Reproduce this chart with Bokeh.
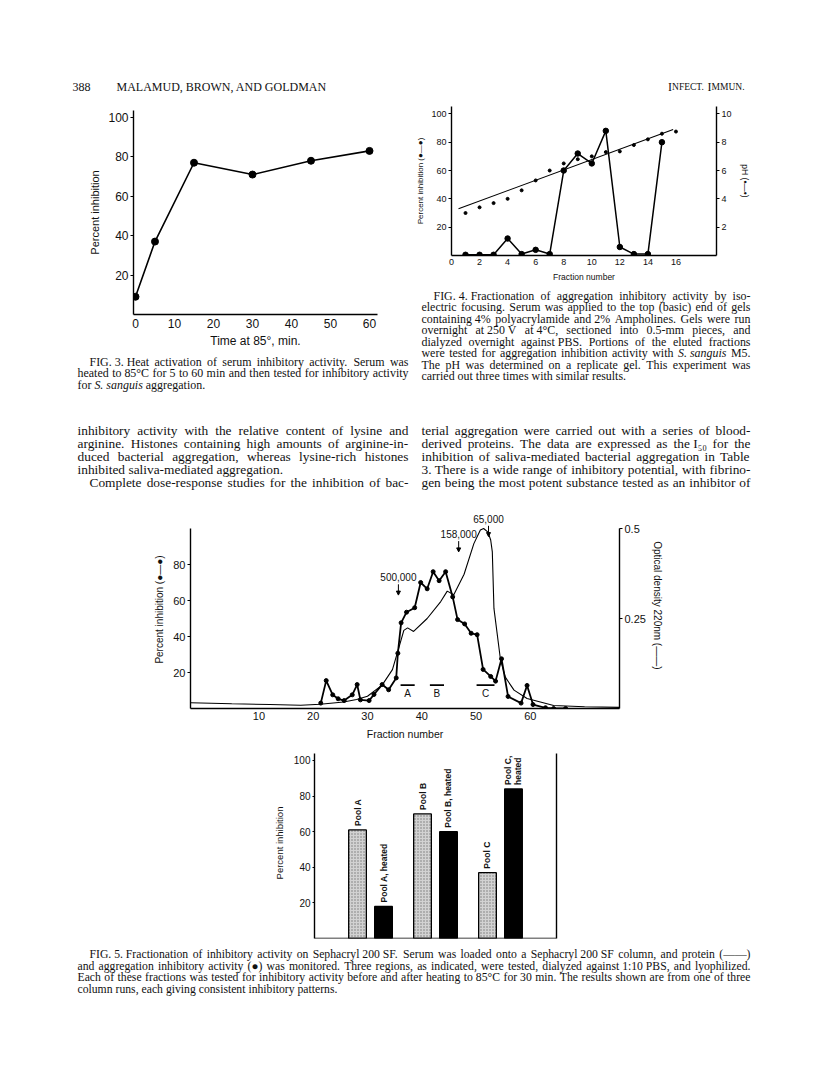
import math
from bokeh.plotting import figure
from bokeh.models import (Range1d, LinearAxis, FixedTicker, Arrow, NormalHead,
                          FactorRange, ColumnDataSource, Span)
from bokeh.embed import file_html
from bokeh.resources import INLINE
from bokeh.core.properties import value

# ---------------- data ----------------
# Fig. 3
fig3_time = [0, 5, 15, 30, 45, 60]
fig3_inhib = [9, 37, 77, 71, 78, 83]
fig3_xticks = [0, 10, 20, 30, 40, 50, 60]
fig3_yticks = [20, 40, 60, 80, 100]

# Fig. 4
fig4_fraction = [1, 2, 3, 4, 5, 6, 7, 8, 9, 10, 11, 12, 13, 14, 15]
fig4_inhib = [0.5, 0.5, 0.5, 12, 1, 4, 1, 60, 72, 65, 88, 6, 1, 1, 80]
fig4_ph_fraction = [1, 2, 3, 4, 5, 6, 7, 8, 9, 10, 11, 12, 13, 14, 15, 16]
fig4_ph = [3.0, 3.4, 3.7, 4.0, 4.6, 5.3, 6.0, 6.5, 6.8, 7.0, 7.3, 7.35, 7.8, 8.2, 8.6, 8.75]
fig4_fit_fraction = [0.5, 15.8]
fig4_fit_ph = [3.3, 8.9]
fig4_xticks = [0, 2, 4, 6, 8, 10, 12, 14, 16]
fig4_yticks = [20, 40, 60, 80, 100]
fig4_ph_ticks = [2, 4, 6, 8, 10]

# Fig. 5 (column profile)
fig5_fraction = [21.4, 22.4, 23.6, 24.6, 25.7, 27.2, 28.1, 28.7, 30.3, 31.2, 32.7, 33.9,
                 35.3, 35.6, 36.2, 37.2, 38.7, 39.8, 41.0, 42.1, 43.2, 44.4, 45.7, 46.6,
                 47.9, 49.1, 50.2, 51.3, 52.7, 53.6, 54.7, 55.9, 58.3, 59.4, 60.5, 62.8,
                 64.3, 66.5]
fig5_inhib = [3, 15.5, 7.6, 5.4, 4.4, 7.6, 13.3, 4.8, 4.4, 7.8, 13.3, 10.4,
              17, 30.7, 47.6, 53.5, 56, 70, 66.5, 76, 71, 76, 62, 49.4,
              47, 41.8, 41, 21.7, 17.8, 15.2, 27.6, 6.7, 3, 12.8, 2.2, 0.4,
              0, 0]
od_fraction = [-2.6, 5, 12, 17.7, 21.3, 25.6, 28, 30, 32.7, 34.6, 35.8, 36.7, 37.4, 38.5,
               41, 43.5, 44.7, 45.9, 47.8, 49.6, 50.8, 51.4, 52.2, 52.7, 53.0, 53.3,
               54.5, 55.4, 57, 59.4, 64.3, 70, 76.4]
od_values = [0.016, 0.013, 0.011, 0.009, 0.012, 0.018, 0.025, 0.034, 0.065, 0.108, 0.17,
             0.217, 0.224, 0.214, 0.25, 0.297, 0.326, 0.316, 0.373, 0.458, 0.496, 0.5,
             0.49, 0.468, 0.435, 0.278, 0.136, 0.087, 0.051, 0.028, 0.0085, 0.005, 0.003]
fig5_xticks = [10, 20, 30, 40, 50, 60]
fig5_yticks = [20, 40, 60, 80]
od_ticks = [0.25, 0.5]
pool_labels = ["A", "B", "C"]
pool_start = [36.1, 41.5, 50.1]
pool_end = [38.7, 44.1, 53.4]
pool_level = 13
mw_labels = ["500,000", "158,000", "65,000"]
mw_fraction = [35.7, 46.8, 52.3]
mw_level = [73, 97, 105.5]

# Fig. 5 (bars)
bar_pools = ["Pool A", "Pool A", "Pool B", "Pool B", "Pool C", "Pool C"]
bar_treatment = ["unheated", "heated", "unheated", "heated", "unheated", "heated"]
bar_values = [61, 18, 70, 60, 37, 84]
bar_labels = ["Pool A", "Pool A, heated", "Pool B", "Pool B, heated", "Pool C", "Pool C,\nheated"]
bar_yticks = [20, 40, 60, 80, 100]

# ---------------- text (words wrapped in _ are italic) ----------------
header_left = [("388", 64), ("MALAMUD, BROWN, AND GOLDMAN", 108)]
cap3 = ["FIG. 3. Heat activation of serum inhibitory activity. Serum was",
        "heated to 85°C for 5 to 60 min and then tested for inhibitory activity",
        "for _S._ _sanguis_ aggregation."]
cap4 = ["FIG. 4. Fractionation of aggregation inhibitory activity by iso-",
        "electric focusing. Serum was applied to the top (basic) end of gels",
        "containing 4% polyacrylamide and 2% Ampholines. Gels were run",
        "overnight at 250 V at 4°C, sectioned into 0.5-mm pieces, and",
        "dialyzed overnight against PBS. Portions of the eluted fractions",
        "were tested for aggregation inhibition activity with _S._ _sanguis_ M5.",
        "The pH was determined on a replicate gel. This experiment was",
        "carried out three times with similar results."]
body_left = ["inhibitory activity with the relative content of lysine and",
             "arginine. Histones containing high amounts of arginine-in-",
             "duced bacterial aggregation, whereas lysine-rich histones",
             "inhibited saliva-mediated aggregation.",
             "Complete dose-response studies for the inhibition of bac-"]
body_right = ["terial aggregation were carried out with a series of blood-",
              "derived proteins. The data are expressed as the I₅₀ for the",
              "inhibition of saliva-mediated bacterial aggregation in Table",
              "3. There is a wide range of inhibitory potential, with fibrino-",
              "gen being the most potent substance tested as an inhibitor of"]
cap5 = ["FIG. 5. Fractionation of inhibitory activity on Sephacryl 200 SF. Serum was loaded onto a Sephacryl 200 SF column, and protein (——)",
        "and aggregation inhibitory activity (●) was monitored. Three regions, as indicated, were tested, dialyzed against 1:10 PBS, and lyophilized.",
        "Each of these fractions was tested for inhibitory activity before and after heating to 85°C for 30 min. The results shown are from one of three",
        "column runs, each giving consistent inhibitory patterns."]

SERIF = "Liberation Serif"
SANS = "Liberation Sans"
INK = "#111111"

TW = dict(zip("abcdefghijklmnopqrstuvwxyz",
              [444, 500, 444, 500, 444, 333, 500, 500, 278, 278, 500, 278, 778, 500, 500,
               500, 500, 333, 389, 278, 500, 500, 722, 500, 500, 444]))
TW.update(dict(zip("ABCDEFGHIJKLMNOPQRSTUVWXYZ",
                   [722, 667, 667, 722, 611, 556, 722, 722, 333, 389, 722, 611, 889, 722,
                    722, 556, 722, 667, 556, 611, 722, 722, 944, 722, 722, 611])))
TW.update({" ": 250, ".": 250, ",": 250, "-": 333, ":": 278, "(": 333, ")": 333,
           "%": 833, "°": 400, "—": 1000, "●": 600, "₅": 330, "₀": 330})
SPECIAL = set("●—")


def tw(s, size):
    return sum(TW.get(c, 500) for c in s) / 1000.0 * size


def has_lower(s):
    return any("a" <= c <= "z" for c in s)


def chunks_of(line):
    """Split a line into chunks; every chunk holds lowercase letters and one style."""
    out = []
    for t in line.split(" "):
        if t.startswith("_") and t.endswith("_") and len(t) > 2:
            word, st = t[1:-1], "italic"
        else:
            word, st = t, "normal"
        special = any(c in SPECIAL for c in word)
        prev_special = bool(out) and any(c in SPECIAL for c in out[-1][0])
        if (out and not special and not prev_special and out[-1][1] == st and
                (not has_lower(word) or not has_lower(out[-1][0]) or st == "italic")):
            out[-1] = (out[-1][0] + " " + word, st)
        else:
            out.append((word, st))
    return out


def line_items(line, x, y, size, target=None):
    toks = chunks_of(line)
    if target is None and len(toks) == 1:
        return [(x, y, toks[0][0], size, toks[0][1])]
    widths = [tw(t, size) for t, _ in toks]
    sp = tw(" ", size)
    nat = sum(widths) + sp * (len(toks) - 1)
    gap = sp
    if target is not None and len(toks) > 1 and nat < target:
        gap = sp + (target - nat) / (len(toks) - 1)
    items, cx = [], x
    for (t, st), w in zip(toks, widths):
        items.append((cx, y, t, size, st))
        cx += w + gap
    return items


def fit_size(lines, width, desired):
    worst = max(tw(l.replace("_", ""), 1.0) for l in lines)
    return min(desired, 0.985 * width / worst)


def paragraph(lines, x0, y0, dy, width, size, indents, justify):
    items = []
    for i, line in enumerate(lines):
        ind = indents.get(i, 0)
        target = (width - ind) if justify[i] else None
        items += line_items(line, x0 + ind, y0 + dy * i, size, target)
    return items


def place(p, left, top):
    p.styles = {"position": "absolute", "left": f"{left}px", "top": f"{top}px"}
    return p


def band(w, h, items):
    p = figure(width=w, height=h, x_range=Range1d(0, w), y_range=Range1d(h, 0),
               min_border=0, toolbar_location=None, output_backend="svg",
               x_axis_type=None, y_axis_type=None, outline_line_color=None,
               background_fill_color="white", border_fill_color="white")
    groups = {}
    for (x, y, t, size, style) in items:
        groups.setdefault((size, style), []).append((x, y, t))
    for (size, style), lst in groups.items():
        src = ColumnDataSource(dict(x=[a[0] for a in lst], y=[a[1] for a in lst],
                                    text=[a[2] for a in lst]))
        p.text(x="x", y="y", text="text", source=src, text_font=value(SERIF),
               text_font_size=value(f"{size:.2f}px"), text_font_style=value(style),
               text_baseline="alphabetic", text_align="left", text_color=INK)
    return p


def chart(width, height, xr, yr, bl, br, bt, bb, **kw):
    p = figure(width=width, height=height, x_range=xr, y_range=yr,
               min_border_left=bl, min_border_right=br, min_border_top=bt,
               min_border_bottom=bb, toolbar_location=None, output_backend="svg",
               outline_line_color=None, background_fill_color="white",
               border_fill_color="white", **kw)
    p.grid.visible = False
    return p


def style_axis(ax, size, tick_out=3, standoff=2, label_size=None, label_standoff=4):
    ax.axis_line_color = "black"
    ax.axis_line_width = 1.4
    ax.major_tick_line_color = "black" if tick_out > 0 else None
    ax.major_tick_line_width = 1.2
    ax.major_tick_out = tick_out
    ax.major_tick_in = 0
    ax.minor_tick_line_color = None
    ax.major_label_text_font = SANS
    ax.major_label_text_font_size = f"{size}px"
    ax.major_label_text_color = INK
    ax.major_label_standoff = standoff
    ax.axis_label_text_font = SANS
    ax.axis_label_text_font_size = f"{label_size or size}px"
    ax.axis_label_text_font_style = "normal"
    ax.axis_label_text_color = INK
    ax.axis_label_standoff = label_standoff


# ---------------- header ----------------
hdr_items = [(x, 78, t, 12, "normal") for t, x in header_left]
sc_pieces = [("I", 12), ("NFECT.", 9.5), (" ", 12), ("I", 12), ("MMUN.", 9.5)]
total = sum(tw(t, s) for t, s in sc_pieces)
xcur = 736 - total
for t, s in sc_pieces:
    if t.strip():
        hdr_items.append((xcur, 78, t, s, "normal"))
    xcur += tw(t, s)
header = place(band(800, 87, hdr_items), 8, 8)

# column geometry (band-local x)
LCOL_X, LCOL_W = 69, 331      # screen 77 .. 408
RCOL_X, RCOL_W = 9, 329       # inside right bands (screen 421 .. 750)

# ---------------- Fig. 3 ----------------
p3 = chart(404, 255, Range1d(-0.51, 62.05), Range1d(0, 103.5), 125, 35, 15, 35)
p3.line(fig3_time, fig3_inhib, line_width=1.6, color="black")
p3.scatter(fig3_time, fig3_inhib, size=7, color="black")
p3.xaxis.ticker = FixedTicker(ticks=fig3_xticks)
p3.yaxis.ticker = FixedTicker(ticks=fig3_yticks)
p3.xaxis.axis_label = "Time at 85°, min."
p3.yaxis.axis_label = "Percent inhibition"
style_axis(p3.xaxis[0], 12, tick_out=0, standoff=4, label_size=12, label_standoff=3)
style_axis(p3.yaxis[0], 12, tick_out=3, standoff=2, label_size=11, label_standoff=4)
place(p3, 8, 95)

cap_size = min(fit_size(cap3[:2], LCOL_W, 12.3), fit_size(cap4[:7], RCOL_W, 12.3))
c3_items = paragraph(cap3, LCOL_X, 11, 11.5, LCOL_W, cap_size, {0: 12},
                     [True, True, False])
capfig3 = place(band(404, 45, c3_items), 8, 350)

# ---------------- Fig. 4 ----------------
p4 = chart(396, 189, Range1d(0, 18.89), Range1d(0, 105.2), 39, 92, 11, 29)
p4.extra_y_ranges = {"ph": Range1d(0, 10.52)}
p4.line(fig4_fraction, fig4_inhib, line_width=1.5, color="black")
p4.scatter(fig4_fraction, fig4_inhib, size=5.5, color="black")
p4.scatter(fig4_ph_fraction, fig4_ph, size=3, color="black", y_range_name="ph")
p4.line(fig4_fit_fraction, fig4_fit_ph, line_width=1.1, color="black", y_range_name="ph")
p4.xaxis.ticker = FixedTicker(ticks=fig4_xticks)
p4.yaxis.ticker = FixedTicker(ticks=fig4_yticks)
p4.xaxis.axis_label = "Fraction number"
p4.yaxis.axis_label = "Percent inhibition (●—●)"
style_axis(p4.xaxis[0], 9, tick_out=0, standoff=3, label_size=8.5, label_standoff=4)
style_axis(p4.yaxis[0], 9, tick_out=3, standoff=2, label_size=8, label_standoff=3)
ph_axis = LinearAxis(y_range_name="ph", ticker=FixedTicker(ticks=fig4_ph_ticks),
                     axis_label="pH (•—•)")
style_axis(ph_axis, 9, tick_out=3, standoff=2, label_size=8.5, label_standoff=5)
p4.add_layout(ph_axis, "right")
place(p4, 412, 95)

c4_items = paragraph(cap4, RCOL_X, 11, 11.5, RCOL_W, cap_size, {0: 12},
                     [True] * 7 + [False])
capfig4 = place(band(396, 111, c4_items), 412, 284)

# ---------------- body text ----------------
body_size = min(fit_size(body_left, LCOL_W, 13.5), fit_size(body_right, RCOL_W, 13.5))
b_items = paragraph(body_left, LCOL_X, 35, 13, LCOL_W, body_size, {4: 12},
                    [True, True, True, False, True])
b_items += paragraph(body_right, 413, 35, 13, RCOL_W, body_size, {},
                     [True] * 5)
body = place(band(800, 100, b_items), 8, 395)

# ---------------- Fig. 5 profile ----------------
p5 = chart(800, 250, Range1d(-2.6, 76.43), Range1d(0, 110), 182, 189, 15, 37)
p5.extra_y_ranges = {"od": Range1d(0, 0.55)}
p5.line(od_fraction, od_values, y_range_name="od", line_width=1.1, color="black")
p5.line(fig5_fraction, fig5_inhib, line_width=1.8, color="black")
p5.scatter(fig5_fraction, fig5_inhib, size=4, color="black")
p5.segment(x0=pool_start, y0=[pool_level] * 3, x1=pool_end, y1=[pool_level] * 3,
           line_width=1.6, color="black")
pool_mid = [(a + b) / 2 for a, b in zip(pool_start, pool_end)]
p5.text(x=pool_mid, y=[pool_level] * 3, text=pool_labels, y_offset=3,
        text_font=value(SANS), text_font_size=value("10px"), text_align="center",
        text_baseline="top", text_color=INK)
p5.text(x=mw_fraction, y=mw_level, text=mw_labels, text_font=value(SANS),
        text_font_size=value("10px"), text_align="center", text_baseline="middle",
        text_color=INK)
for f, lv in zip(mw_fraction, mw_level):
    p5.add_layout(Arrow(end=NormalHead(size=4, fill_color="black", line_color="black"),
                        x_start=f, y_start=lv - 4, x_end=f, y_end=lv - 10,
                        line_width=1, line_color="black"))
p5.xaxis.ticker = FixedTicker(ticks=fig5_xticks)
p5.yaxis.ticker = FixedTicker(ticks=fig5_yticks)
p5.yaxis.bounds = (0, 100)
p5.xaxis.axis_label = "Fraction number"
p5.yaxis.axis_label = "Percent inhibition (●—●)"
style_axis(p5.xaxis[0], 11, tick_out=0, standoff=3, label_size=10.5, label_standoff=5)
style_axis(p5.yaxis[0], 11, tick_out=3, standoff=2, label_size=10, label_standoff=5)
od_axis = LinearAxis(y_range_name="od", ticker=FixedTicker(ticks=od_ticks), bounds=(0, 0.5),
                     major_label_overrides={0.25: "0.25", 0.5: "0.5"},
                     axis_label="Optical density    220nm (——)")
style_axis(od_axis, 11, tick_out=3, standoff=2, label_size=10, label_standoff=3)
p5.add_layout(od_axis, "right")
place(p5, 8, 495)

# ---------------- Fig. 5 bars ----------------
factors = list(zip(bar_pools, bar_treatment))
p6 = chart(800, 198, FactorRange(*factors, factor_padding=0, group_padding=0.5,
                                 range_padding=0.33),
           Range1d(0, 107.3), 306, 252, 2, 5, x_axis_type=None)
for treat, fill, hatch in (("unheated", "#d2d2d2", "."), ("heated", "black", None)):
    idx = [i for i, t in enumerate(bar_treatment) if t == treat]
    src = ColumnDataSource(dict(x=[factors[i] for i in idx], top=[bar_values[i] for i in idx]))
    kw = dict(hatch_pattern=hatch, hatch_color="#777777", hatch_scale=3, hatch_weight=1) if hatch else {}
    p6.vbar(x="x", top="top", width=0.68, source=src, fill_color=fill,
            line_color="black", line_width=1.3, **kw)
lab_src = ColumnDataSource(dict(x=factors, y=bar_values, text=bar_labels))
p6.text(x="x", y="y", text="text", source=lab_src, angle=math.pi / 2, y_offset=-4,
        text_font=value(SANS), text_font_size=value("8.5px"),
        text_font_style=value("bold"), text_align="left", text_baseline="middle",
        text_color=INK, text_line_height=1.0)
p6.add_layout(Span(location=0, dimension="width", line_color="black", line_width=1.4))
p6.yaxis.ticker = FixedTicker(ticks=bar_yticks)
p6.yaxis.bounds = (0, 104)
p6.yaxis.axis_label = "Percent inhibition"
style_axis(p6.yaxis[0], 10, tick_out=2, standoff=2, label_size=9.5, label_standoff=6)
rax = LinearAxis(ticker=FixedTicker(ticks=[]), bounds=(0, 104))
style_axis(rax, 10, tick_out=0, standoff=0)
p6.add_layout(rax, "right")
place(p6, 8, 745)

# ---------------- Fig. 5 caption ----------------
cap5_size = fit_size(cap5[:3], 673, 11.7)
c5_items = paragraph(cap5, 69, 11, 11.5, 673, cap5_size, {0: 12},
                     [True, True, True, False])
capfig5 = place(band(800, 126, c5_items), 8, 943)

roots = [header, p3, capfig3, p4, capfig4, body, p5, p6, capfig5]
open("out.html", "w").write(file_html(roots, INLINE))
